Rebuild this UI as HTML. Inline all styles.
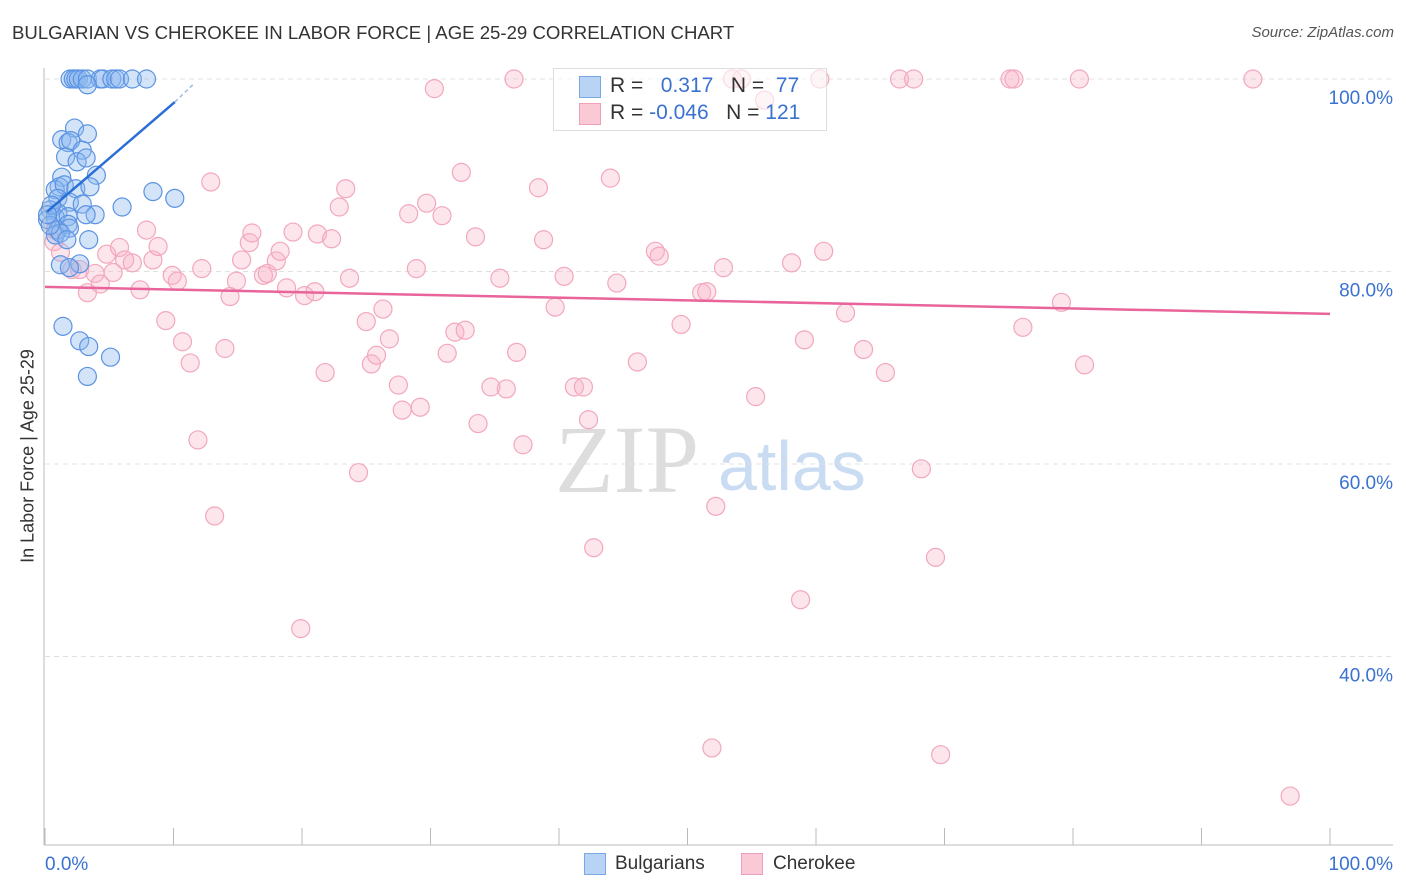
<!DOCTYPE html>
<html><head><meta charset="utf-8"><style>
body{margin:0;background:#fff;font-family:"Liberation Sans",sans-serif;}
#wrap{position:relative;width:1406px;height:892px;overflow:hidden}
.t{position:absolute;white-space:nowrap}
</style></head><body>
<div id="wrap">
<div class="t" style="left:12px;top:22px;font-size:18.6px;color:#333">BULGARIAN VS CHEROKEE IN LABOR FORCE | AGE 25-29 CORRELATION CHART</div>
<div class="t" style="right:12px;top:24px;font-size:15px;color:#555;font-style:italic">Source: ZipAtlas.com</div>
<div class="t" style="left:28px;top:456px;font-size:18px;color:#333;transform:translate(-50%,-50%) rotate(-90deg)">In Labor Force | Age 25-29</div>
<svg id="plot" width="1406" height="892" style="position:absolute;left:0;top:0">
<text x="555" y="492" font-family="Liberation Serif,serif" font-size="96" fill="#ddd">ZIP</text>
<text x="718" y="490" font-family="Liberation Sans,sans-serif" font-size="70" fill="#c9dcf2">atlas</text>
<g id="grid"></g><g id="pink"></g><g id="blue"></g><g id="lines"></g><g id="axes"></g>
</svg>
<div style="position:absolute;left:553px;top:68px;width:272px;height:61px;border:1px solid #ddd;background:rgba(255,255,255,0.6)"></div>
<div style="position:absolute;left:579px;top:76px;width:20px;height:20px;background:#b9d3f5;border:1px solid #7aa7e6"></div>
<div style="position:absolute;left:579px;top:103px;width:20px;height:20px;background:#fbc8d6;border:1px solid #f0a0b8"></div>
<div class="t" style="left:610px;top:74px;font-size:21px;color:#333">R = &nbsp;&nbsp;<span style="color:#3a72d0">0.317</span>&nbsp;&nbsp;&nbsp;N = &nbsp;<span style="color:#3a72d0">77</span></div>
<div class="t" style="left:610px;top:101px;font-size:21px;color:#333">R = <span style="color:#3a72d0">-0.046</span>&nbsp;&nbsp;&nbsp;N = <span style="color:#3a72d0">121</span></div>
<div style="position:absolute;left:584px;top:853px;width:20px;height:20px;background:#b9d3f5;border:1px solid #7aa7e6"></div>
<div class="t" style="left:615px;top:853px;font-size:19px;color:#333">Bulgarians</div>
<div style="position:absolute;left:741px;top:853px;width:20px;height:20px;background:#fbc8d6;border:1px solid #f0a0b8"></div>
<div class="t" style="left:773px;top:853px;font-size:19px;color:#333">Cherokee</div>
</div>
<script>
const yTicks=[40,60,80,100];
const yTickLabels=["40.0%","60.0%","80.0%","100.0%"];
const xTickLabels=["0.0%","100.0%"];
const blueX=[1.95,2.2,2.4,2.6,2.9,3.3,4.3,4.5,5.2,5.5,5.8,6.8,7.9,3.3,2.3,1.3,1.8,2.0,3.3,2.9,1.6,2.5,3.2,4.0,1.3,1.1,0.8,1.5,2.4,3.5,8.4,10.1,6.0,1.0,1.9,0.4,1.0,0.8,1.8,1.8,2.9,3.9,3.2,0.2,1.0,1.9,0.8,1.2,1.7,3.4,1.2,2.7,1.9,1.4,2.7,3.4,5.1,3.3,0.4,0.5,0.2];
const blueY=[100,100,100,100,100,100,100,100,100,100,100,100,100,99.4,94.9,93.7,93.4,93.6,94.3,92.6,91.9,91.4,91.8,90.0,89.8,88.8,88.5,89.0,88.6,88.8,88.3,87.6,86.7,87.6,87.2,86.4,86.1,85.6,85.7,84.9,87.0,85.9,85.9,85.4,84.3,84.5,83.8,84.0,83.3,83.3,80.7,80.8,80.4,74.3,72.8,72.2,71.1,69.1,84.8,86.9,85.9];
const pinkX=[0.7,1.2,2.1,2.7,3.3,3.9,4.3,4.8,5.3,5.8,6.2,6.8,7.4,7.9,8.4,8.8,9.4,9.9,10.3,10.7,11.3,11.9,12.2,12.9,13.2,14,14.4,14.9,15.3,15.9,16.1,17,17.3,18,18.3,18.8,19.3,19.9,20.2,21,21.2,21.8,22.3,22.9,23.4,23.7,24.4,25,25.4,25.8,26.3,26.8,27.5,27.8,28.3,28.9,29.2,29.7,30.3,30.9,31.3,31.9,32.4,32.7,33.5,33.7,34.7,35.4,35.9,36.5,36.7,37.2,38.4,38.8,39.7,40.4,41.2,41.9,42.3,42.7,44,44.5,46.1,47.5,47.8,49.5,51.1,51.5,51.9,52.2,52.8,53.5,54.2,55.3,56,58.1,58.8,59.1,60.3,60.6,62.3,63.7,65.4,66.5,67.6,68.2,69.3,69.7,75.1,75.4,76.1,79.1,80.5,80.9,94,96.9,0.8];
const pinkY=[83.1,82,80.2,80.2,77.8,79.8,78.7,81.8,79.9,82.5,81.2,80.9,78.1,84.3,81.2,82.6,74.9,79.6,79,72.7,70.5,62.5,80.3,89.3,54.6,72,77.4,79,81.2,83,84,79.6,79.8,81.1,82.1,78.3,84.1,42.9,77.5,77.9,83.9,69.5,83.4,86.7,88.6,79.3,59.1,74.8,70.4,71.3,76.1,73,68.2,65.6,86,80.3,65.9,87.1,99,85.8,71.5,73.7,90.3,73.9,83.6,64.2,68,79.3,67.8,100,71.6,62,88.7,83.3,76.3,79.5,68,68,64.6,51.3,89.7,78.8,70.6,82.1,81.6,74.5,77.8,77.9,30.5,55.6,80.4,100,100,67,97.8,80.9,45.9,72.9,100,82.1,75.7,71.9,69.5,100,100,59.5,50.3,29.8,100,100,74.2,76.8,100,70.3,100,25.5,84.3];
const blueTrendX=[0.15,10.1], blueTrendY=[86.2,97.6], blueDashX=[10.1,11.5], blueDashY=[97.6,99.4];
const pinkTrendX=[0,100], pinkTrendY=[78.4,75.6];
const X=v=>45+v*12.85, Y=v=>79+(100-v)*9.625;
const NS="http://www.w3.org/2000/svg";
function mk(tag,parent,attrs){const e=document.createElementNS(NS,tag);for(const k in attrs)e.setAttribute(k,attrs[k]);document.getElementById(parent).appendChild(e);return e;}
yTicks.forEach((t,i)=>{
 const g=mk('line','grid',{x1:45,x2:1393,y1:Y(t),y2:Y(t),stroke:'#e0e0e0','stroke-dasharray':'5,4'});
 
 
 const l=mk('text','axes',{x:1393,y:Y(t)+25,'text-anchor':'end','font-size':19,fill:'#3a72d0','font-family':'Liberation Sans,sans-serif'});
 l.textContent=yTickLabels[i];
 
 
});
pinkX.forEach((x,i)=>{
 const c=mk('circle','pink',{cx:X(x),cy:Y(pinkY[i]),r:9,fill:'rgba(248,180,200,0.35)',stroke:'#f2a7bd','stroke-width':1.2});
 
 
});
blueX.forEach((x,i)=>{
 const c=mk('circle','blue',{cx:X(x),cy:Y(blueY[i]),r:9,fill:'rgba(140,185,240,0.38)',stroke:'#5b93e3','stroke-width':1.2});
 
 
});
let ln=mk('line','lines',{x1:X(pinkTrendX[0]),y1:Y(pinkTrendY[0]),x2:X(pinkTrendX[1]),y2:Y(pinkTrendY[1]),stroke:'#e8649a','stroke-width':2.5});


ln=mk('line','lines',{x1:X(blueTrendX[0]),y1:Y(blueTrendY[0]),x2:X(blueTrendX[1]),y2:Y(blueTrendY[1]),stroke:'#2a6fd6','stroke-width':2.5});


ln=mk('line','lines',{x1:X(blueDashX[0]),y1:Y(blueDashY[0]),x2:X(blueDashX[1]),y2:Y(blueDashY[1]),stroke:'#9bbbe8','stroke-width':1.5,'stroke-dasharray':'4,3'});


let a=mk('line','axes',{x1:44,x2:44,y1:68,y2:845,stroke:'#bbb'});


a=mk('line','axes',{x1:44,x2:1393,y1:845,y2:845,stroke:'#bbb'});


for(let i=0;i<=10;i++){
 const t=mk('line','axes',{x1:X(i*10),x2:X(i*10),y1:828,y2:845,stroke:'#bbb'});
 
 
}
[[0,'start',45],[100,'end',1393]].forEach((d,i)=>{
 const l=mk('text','axes',{x:d[2],y:870,'text-anchor':d[1],'font-size':19,fill:'#3a72d0','font-family':'Liberation Sans,sans-serif'});
 l.textContent=xTickLabels[i];
 
 
});
</script>
</body></html>
